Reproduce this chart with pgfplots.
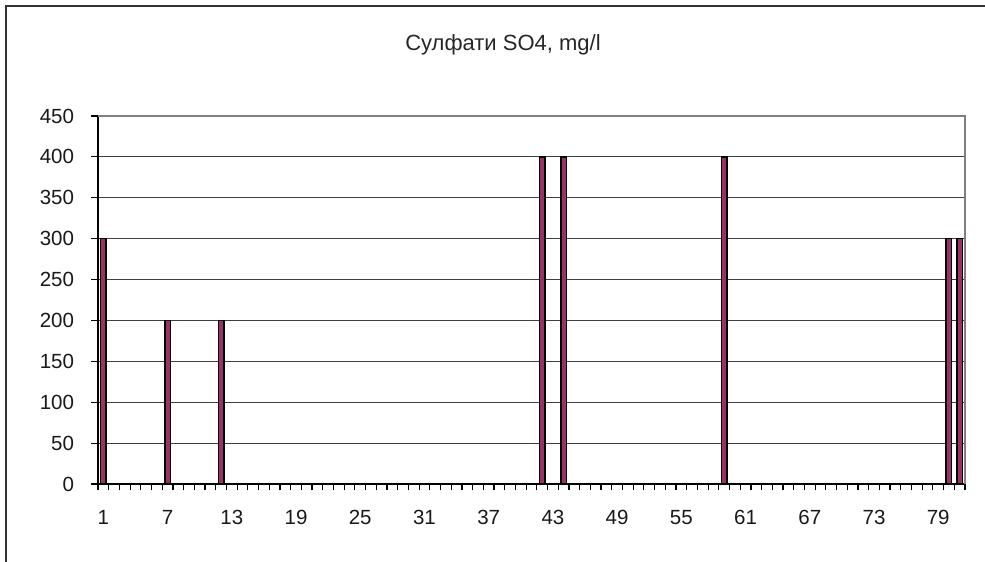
\documentclass[border=0pt]{standalone}
\usepackage{fontspec}
\setmainfont{Liberation Sans}
\usepackage{pgfplots}
\pgfplotsset{compat=1.18}
\definecolor{barfill}{HTML}{993366}
\definecolor{gridc}{HTML}{404040}
\begin{document}
\begin{tikzpicture}[x=1pt,y=1pt]
\path[use as bounding box] (0,0) rectangle (985,562);
\draw[line width=1.5pt, black!80] (6,0) -- (6,556) -- (985,556);
\node[font=\fontsize{22}{26}\selectfont, text=black!85] at (503,517) {Сулфати SO4, mg/l};
\begin{axis}[
  at={(98pt,78pt)}, anchor=south west, scale only axis,
  width=867pt, height=368pt,
  xmin=0.5, xmax=81.5, ymin=0, ymax=450,
  ybar, bar width=5.5pt,
  axis x line*=bottom, axis y line*=left,
  axis line style={-, black, line width=1.2pt},
  xtick={0.5,1.5,...,81.5}, xticklabels={},
  extra x ticks={1,7,13,19,25,31,37,43,49,55,61,67,73,79},
  extra x tick style={major tick length=0pt, grid=none,
    tick label style={yshift=-23pt}},
  ytick={0,50,...,450},
  tick align=outside, major tick length=6.5pt,
  tick style={black, line width=1.2pt},
  ymajorgrids, grid style={gridc, line width=1pt},
  /pgf/number format/assume math mode=true,
  tick label style={font=\fontsize{20.5}{24}\selectfont, text=black!90},
  yticklabel style={xshift=-14pt},
  clip=false,
]
\addplot[draw=black, line width=1.6pt, fill=barfill] coordinates {
  (1,300) (7,200) (12,200) (42,400) (44,400) (59,400) (80,300) (81,300)
};
\draw[gray, line width=1.5pt] (rel axis cs:0,1) -- (rel axis cs:1,1) -- (rel axis cs:1,0);
\end{axis}
\end{tikzpicture}
\end{document}
